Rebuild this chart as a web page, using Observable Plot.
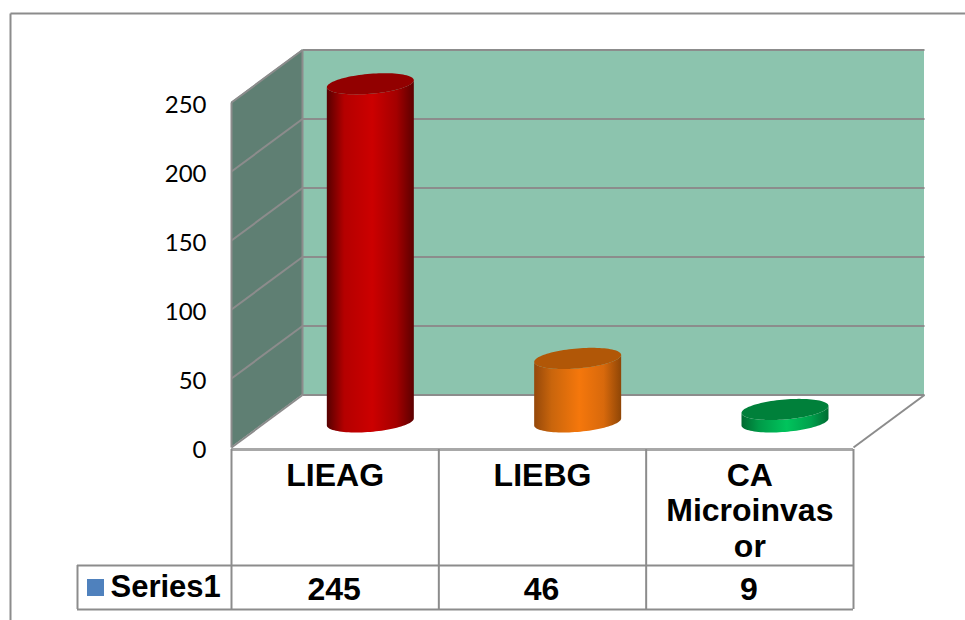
<!DOCTYPE html>
<html>
<head>
<meta charset="utf-8">
<script src="https://cdn.jsdelivr.net/npm/d3@7"></script>
<script src="https://cdn.jsdelivr.net/npm/@observablehq/plot@0.6"></script>
<style>
  html, body { margin: 0; background: #fff; }
  svg { display: block; }
</style>
</head>
<body>
<div id="chart"></div>
<script>
// Chart values
const categories = ["LIEAG", "LIEBG", "CA\nMicroinvas\nor"];
const seriesName = "Series1";
const seriesValues = [245, 46, 9];
const yTicks = [0, 50, 100, 150, 200, 250];

// Cylinder colours: edge, mid-edge, highlight, cap
const bodyColors = [
  ["#560000", "#b40000", "#cc0000", "#a40000", "#5c0000"],
  ["#95480a", "#c9650c", "#f5770c", "#d8690c", "#8f4606"],
  ["#006a30", "#009a48", "#00c45c", "#00a04c", "#006c32"]
];
const capColors = ["#920000", "#b15707", "#00803a"];

// Plot frame, in screen pixels
const frameLeft = 231, frameRight = 853, frameTop = 102, frameBottom = 447;
const xUnit = (frameRight - frameLeft) / 3;
const yUnit = (frameBottom - frameTop) / 250;
const xAt = (px) => (px - frameLeft) / xUnit;
const yAt = (px) => (frameBottom - px) / yUnit;

// Depth of the 3D box, expressed in scale units
const depthX = 71 / xUnit;
const depthY = 52.5 / yUnit;
// Cylinders stand halfway into the box
const seatX = 0.172;
const seatY = 18.2;
// Elliptical rim: half width, half height and the slight tilt of the perspective
const rimA = 43.5 / xUnit;
const rimB = 10 / yUnit;
const rimTilt = 3.5 / yUnit;

const angles = d3.range(0, 49).map((k) => (k / 48) * Math.PI);
const rim = (cx, cy) => angles.map((t) => ({
  x: cx + rimA * Math.cos(t),
  front: cy - rimB * Math.sin(t) + rimTilt * Math.cos(t),
  back: cy + rimB * Math.sin(t) + rimTilt * Math.cos(t)
}));

const gradients = () => {
  const defs = d3.create("svg:defs");
  bodyColors.forEach((colors, i) => {
    const g = defs.append("linearGradient").attr("id", `body${i}`)
      .attr("x1", 0).attr("x2", 1).attr("y1", 0).attr("y2", 0);
    [0, 0.2, 0.52, 0.8, 1].forEach((o, j) =>
      g.append("stop").attr("offset", o).attr("stop-color", colors[j]));
  });
  return defs.node();
};

const cylinder = (value, i) => {
  const cx = i + 0.5 + seatX;
  const lower = rim(cx, seatY);
  const upper = rim(cx, seatY + value);
  const body = lower.map((d, k) => ({ x: d.x, lo: d.front, hi: upper[k].front }));
  return [
    Plot.area(body, { x1: "x", y1: "lo", y2: "hi", fill: `url(#body${i})` }),
    Plot.area(upper, { x1: "x", y1: "front", y2: "back", fill: capColors[i] })
  ];
};

const lineGray = "#8c8c8c";
const boldText = { fontFamily: "Liberation Sans, Arial, sans-serif", fontWeight: "bold", fontSize: 32, fill: "#000" };

const tableTop = yAt(449), tableRow = yAt(565), tableBottom = yAt(609);
const tableXs = [0, 1, 2, 3];

const chart = Plot.plot({
  width: 965,
  height: 620,
  marginLeft: frameLeft,
  marginRight: 965 - frameRight,
  marginTop: frameTop,
  marginBottom: 620 - frameBottom,
  x: { domain: [0, 3], axis: null },
  y: { domain: [0, 250] },
  marks: [
    gradients,

    // Outer chart border
    Plot.link([{ x1: xAt(10), y1: yAt(13), x2: xAt(965), y2: yAt(13) }, { x1: xAt(10), y1: yAt(13), x2: xAt(10), y2: yAt(620) }],
      { x1: "x1", y1: "y1", x2: "x2", y2: "y2", stroke: lineGray, strokeWidth: 2 }),

    // Back wall
    Plot.rect([0], { x1: depthX, x2: 3 + depthX, y1: depthY, y2: 250 + depthY, fill: "#8cc4ae" }),
    // Side wall
    Plot.area([{ x: 0, lo: 0, hi: 250 }, { x: depthX, lo: depthY, hi: 250 + depthY }],
      { x1: "x", y1: "lo", y2: "hi", fill: "#5f7f73" }),

    // Gridlines across both walls
    Plot.link(yTicks, { x1: depthX, x2: 3 + depthX, y1: (d) => d + depthY, y2: (d) => d + depthY, stroke: lineGray, strokeWidth: 2 }),
    Plot.link(yTicks, { x1: 0, x2: depthX, y1: (d) => d, y2: (d) => d + depthY, stroke: lineGray, strokeWidth: 2 }),
    // Wall edges and floor outline
    Plot.link([0], { x1: 0, x2: 0, y1: 0, y2: 250, stroke: lineGray, strokeWidth: 2 }),
    Plot.link([0], { x1: depthX, x2: depthX, y1: depthY, y2: 250 + depthY, stroke: lineGray, strokeWidth: 2 }),
    Plot.link([0], { x1: 3, x2: 3 + depthX, y1: 0, y2: depthY, stroke: lineGray, strokeWidth: 2 }),

    // Cylinders
    ...seriesValues.flatMap(cylinder),

    Plot.axisY({ ticks: yTicks, tickSize: 0, tickPadding: 25, dy: 3, fontSize: 24, fontFamily: "Lato, sans-serif", label: null, color: "#000" }),

    // Data table under the floor
    Plot.ruleY([tableTop], { x1: 0, x2: 3, stroke: "#a8a8a8", strokeWidth: 3 }),
    Plot.ruleY([tableRow, tableBottom], { x1: xAt(77), x2: 3, stroke: lineGray, strokeWidth: 2 }),
    Plot.ruleX(tableXs, { y1: tableTop, y2: tableBottom, stroke: lineGray, strokeWidth: 2 }),
    Plot.ruleX([xAt(77)], { y1: tableRow, y2: tableBottom, stroke: lineGray, strokeWidth: 2 }),
    Plot.text(categories, { x: (d, i) => i + 0.5, y: yAt(460), text: (d) => d, lineAnchor: "top", lineHeight: 1.11, ...boldText }),
    Plot.text(seriesValues, { x: (d, i) => i + 0.5, y: yAt(589), dx: -1, text: (d) => String(d), ...boldText }),
    Plot.rect([seriesName], { x1: xAt(87), x2: xAt(104), y1: yAt(596), y2: yAt(579), fill: "#4f81bd" }),
    Plot.text([seriesName], { x: xAt(110), y: yAt(587), text: (d) => d, textAnchor: "start", ...boldText, fontSize: 31 })
  ]
});
document.getElementById("chart").append(chart);
</script>
</body>
</html>
